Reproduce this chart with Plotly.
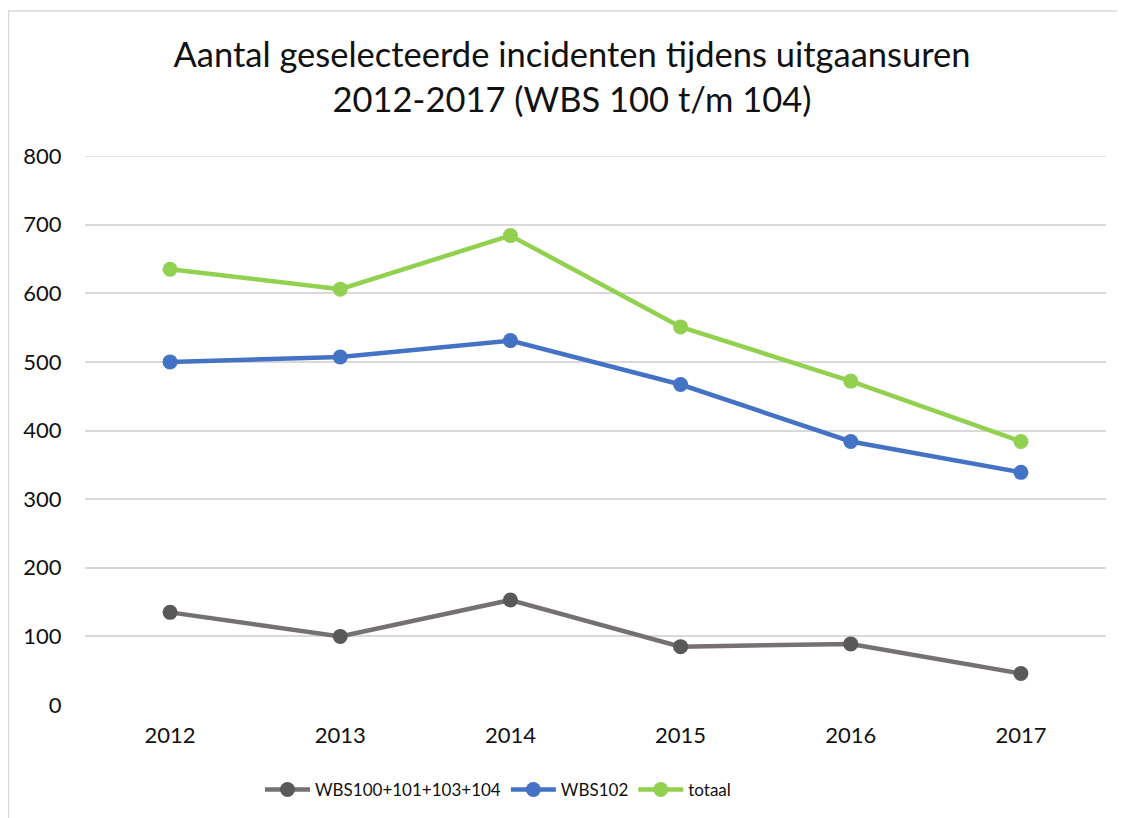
import plotly.graph_objects as go

years = ["2012", "2013", "2014", "2015", "2016", "2017"]
wbs_other = [135, 100, 153, 85, 89, 46]
wbs102 = [500, 507, 531, 467, 384, 339]
totaal = [635, 606, 684, 551, 472, 384]

series_names = ["WBS100+101+103+104", "WBS102", "totaal"]
y_ticks = [0, 100, 200, 300, 400, 500, 600, 700, 800]
title_text = "Aantal geselecteerde incidenten tijdens uitgaansuren<br>2012-2017 (WBS 100 t/m 104)"

# page body has an 8px margin, so figure coords = screen coords - 8
OFF = 8
W, H = 1117, 810
L, R, T, B = 85 - OFF, 1106 - OFF, 156 - OFF, 705 - OFF

FONT = "Lato"
GRID = "#d9d9d9"

fig = go.Figure()
styles = [
    dict(line=dict(color="#767171", width=4.5), marker=dict(color="#595959", size=15)),
    dict(line=dict(color="#4472C4", width=4.5), marker=dict(color="#4472C4", size=15)),
    dict(line=dict(color="#92D050", width=4.5), marker=dict(color="#92D050", size=15)),
]
for name, vals, st in zip(series_names, [wbs_other, wbs102, totaal], styles):
    fig.add_trace(go.Scatter(x=years, y=vals, name=name, mode="lines+markers",
                             line=st["line"], marker=st["marker"]))

pw = R - L
ph = B - T
# outer chart border (left/top visible)
fig.add_shape(type="rect", xref="paper", yref="paper",
              x0=(8.5 - OFF - L) / pw, x1=(1140 - L) / pw,
              y0=(B - 840) / ph, y1=(B - (11 - OFF)) / ph,
              line=dict(color=GRID, width=1.5), fillcolor="rgba(0,0,0,0)", layer="below")
# top gridline (plotly omits the gridline at the range edge)
fig.add_shape(type="line", xref="paper", yref="y", x0=0, x1=1,
              y0=max(y_ticks), y1=max(y_ticks),
              line=dict(color=GRID, width=1.5), layer="below")

fig.update_layout(
    width=W, height=H,
    margin=dict(l=L, r=W - R, t=T, b=H - B, pad=0, autoexpand=False),
    paper_bgcolor="white", plot_bgcolor="white",
    font=dict(family=FONT, color="#111111", size=22),
    title=dict(text=title_text, x=(572 - OFF) / W, xanchor="center", xref="container",
               y=1 - 59 / H, yanchor="top", yref="container",
               font=dict(family=FONT, size=34.5, color="#111111")),
    xaxis=dict(type="category", range=[-0.5, 5.5], showgrid=False, showline=False,
               zeroline=False, ticks="outside", ticklen=11, tickcolor="rgba(0,0,0,0)",
               tickfont=dict(size=22), automargin=False),
    yaxis=dict(range=[0, 800], tickvals=y_ticks, showgrid=True, gridcolor=GRID,
               gridwidth=1.5, zeroline=False, showline=False, ticks="outside",
               ticklen=18, tickcolor="rgba(0,0,0,0)", tickfont=dict(size=22), automargin=False),
    legend=dict(orientation="h", x=(252 - L) / pw, xanchor="left",
                y=1 - 764 / H, yref="container", itemwidth=45,
                yanchor="top", font=dict(size=17), traceorder="normal",
                bgcolor="rgba(0,0,0,0)"),
    showlegend=True,
)

fig.write_html("out.html")
